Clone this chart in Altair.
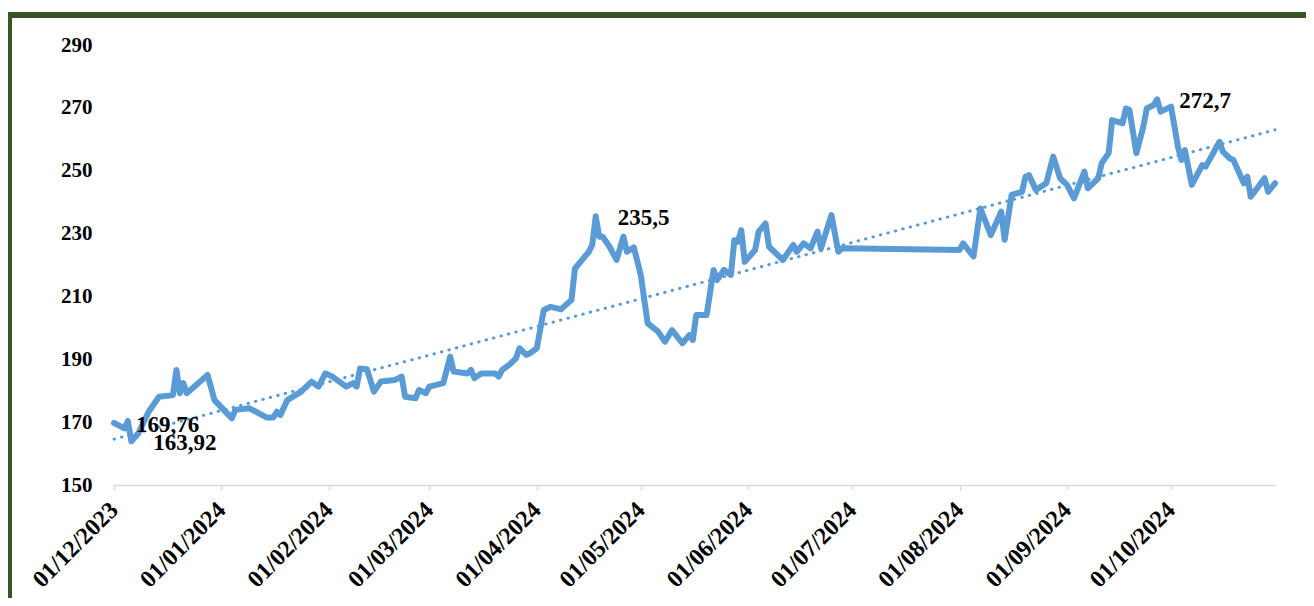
import altair as alt
import pandas as pd

# Day offsets from 01/12/2023 and values
day_offsets = [0, 3, 4, 5, 7, 10, 13, 17, 18, 19, 20, 21, 27, 29, 34, 35, 39, 41, 44, 46,
               47, 48, 50, 54, 57, 59, 61, 63, 67, 69, 70, 71, 73, 75, 77, 81, 83, 84, 87, 88,
               90, 91, 95, 97, 98, 102, 103, 104, 106, 110, 111, 112, 114, 116, 117, 119, 120, 122, 124, 126,
               129, 132, 133, 137, 138, 139, 140, 141, 143, 145, 147, 148, 150, 152, 154, 157, 159, 161, 164, 166,
               167, 168, 171, 173, 174, 176, 178, 179, 180, 181, 182, 185, 186, 188, 189, 193, 196, 197, 199, 201,
               203, 204, 207, 209, 210, 244, 245, 248, 250, 253, 256, 257, 259, 262, 263, 264, 266, 269, 271, 273,
               275, 277, 280, 281, 284, 285, 287, 288, 291, 292, 293, 295, 297, 298, 300, 301, 302, 305, 307, 308,
               309, 311, 314, 315, 319, 320, 322, 323, 326, 327, 328, 332, 333, 335]
values = [169.76, 168.0, 170.4, 163.92, 166.4, 173.3, 178.1, 178.6, 186.6, 179.2, 182.4, 179.2, 185.0, 177.0, 171.2, 173.9, 174.4, 173.3, 171.5, 171.5,
          173.3, 172.3, 177.0, 179.7, 182.9, 181.3, 185.5, 184.5, 181.3, 182.4, 181.3, 187.1, 186.8, 179.7, 182.9, 183.4, 184.5, 178.1, 177.6, 180.2,
          179.2, 181.3, 182.4, 190.8, 186.1, 185.5, 186.6, 184.0, 185.5, 185.5, 184.5, 186.6, 188.2, 190.3, 193.5, 191.4, 191.9, 193.5, 205.7, 206.7,
          205.9, 208.9, 218.9, 224.2, 226.4, 235.5, 229.0, 229.0, 225.8, 221.6, 229.0, 224.2, 225.6, 216.8, 201.4, 198.8, 195.6, 199.3, 195.1, 197.7,
          196.1, 204.1, 204.1, 218.4, 215.2, 218.4, 216.8, 227.9, 227.4, 231.1, 221.0, 224.8, 230.6, 233.2, 225.8, 221.6, 226.4, 224.2, 226.9, 225.3,
          230.6, 225.3, 235.9, 224.2, 225.3, 224.8, 226.9, 222.7, 238.0, 229.5, 237.0, 228.0, 242.3, 243.3, 248.1, 248.6, 243.9, 246.0, 254.5, 247.6,
          245.5, 241.2, 249.7, 244.4, 247.6, 252.4, 255.6, 266.1, 265.1, 269.8, 269.3, 255.6, 264.0, 269.8, 270.9, 272.7, 268.8, 270.4, 257.6, 253.4,
          256.6, 245.5, 251.8, 251.3, 259.2, 256.0, 253.9, 253.4, 246.0, 248.1, 241.7, 247.6, 243.3, 246.0]

# Linear trend end points
trend_days = [0, 335]
trend_values = [164.6, 263.0]

# Data labels
label_days = [0, 5, 139, 301]
label_values = [169.76, 163.92, 235.5, 272.7]
label_texts = ["169,76", "163,92", "235,5", "272,7"]

y_ticks = [150, 170, 190, 210, 230, 250, 270, 290]

base = pd.Timestamp("2023-12-01")


def to_dates(days):
    return [(base + pd.Timedelta(days=d)).strftime("%Y-%m-%d") for d in days]


df = pd.DataFrame({"date": to_dates(day_offsets), "value": values})
trend_df = pd.DataFrame({"date": to_dates(trend_days), "value": trend_values})
label_df = pd.DataFrame({"date": to_dates(label_days), "value": label_values, "text": label_texts})

FONT = "Liberation Serif"
BLUE = "#5b9bd5"
W, H = 1161, 440

x_scale = alt.Scale(
    type="utc",
    domain=[alt.DateTime(year=2023, month=12, date=1, utc=True),
            alt.DateTime(year=2024, month=10, date=31, utc=True)],
)
y_scale = alt.Scale(domain=[150, 290], nice=False, zero=False)

x_enc = alt.X(
    "date:T",
    scale=x_scale,
    title=None,
    axis=alt.Axis(
        labelExpr="utcFormat(datum.value, '%d/%m/%Y')",
        tickCount=alt.TickCount(interval="month", step=1),
        labelAngle=-45,
        labelAlign="right",
        labelBaseline="middle",
        labelFont=FONT,
        labelFontWeight="bold",
        labelFontSize=24,
        labelColor="black",
        labelPadding=16,
        labelOverlap=False,
        labelFlush=False,
        grid=False,
        domainColor="#d9d9d9",
        domainWidth=1.5,
        tickColor="#d9d9d9",
        tickSize=5,
        tickWidth=1.5,
    ),
)
y_enc = alt.Y(
    "value:Q",
    scale=y_scale,
    title=None,
    axis=alt.Axis(
        values=y_ticks,
        labelFont=FONT,
        labelFontWeight="bold",
        labelFontSize=21,
        labelColor="black",
        labelPadding=22,
        domain=False,
        ticks=False,
        grid=False,
    ),
)

frame = alt.Chart(pd.DataFrame({"a": [0]})).mark_rect(
    fill="transparent", stroke="#375623", strokeWidth=6
).encode(
    x=alt.value(-105), x2=alt.value(W + 80),
    y=alt.value(-30), y2=alt.value(H + 200),
)

trend = alt.Chart(trend_df).mark_line(
    color=BLUE, strokeWidth=3, strokeDash=[0.5, 7.2], strokeCap="round"
).encode(x=x_enc, y=y_enc)

line = alt.Chart(df).mark_line(
    color=BLUE, strokeWidth=6, strokeJoin="round", strokeCap="round"
).encode(x=x_enc, y=y_enc)

labels = alt.Chart(label_df).mark_text(
    align="left", baseline="middle", dx=22, dy=2,
    font=FONT, fontWeight="bold", fontSize=23, color="black"
).encode(x=alt.X("date:T", scale=x_scale), y=alt.Y("value:Q", scale=y_scale), text="text:N")

chart = alt.layer(frame, trend, line, labels).properties(
    width=W, height=H,
    autosize=alt.AutoSizeParams(type="none"),
    padding={"left": 106, "top": 37, "right": 31, "bottom": 113},
    background="white",
).configure_view(stroke=None)

chart.save("out.html", embed_options={"renderer": "svg", "actions": False})
